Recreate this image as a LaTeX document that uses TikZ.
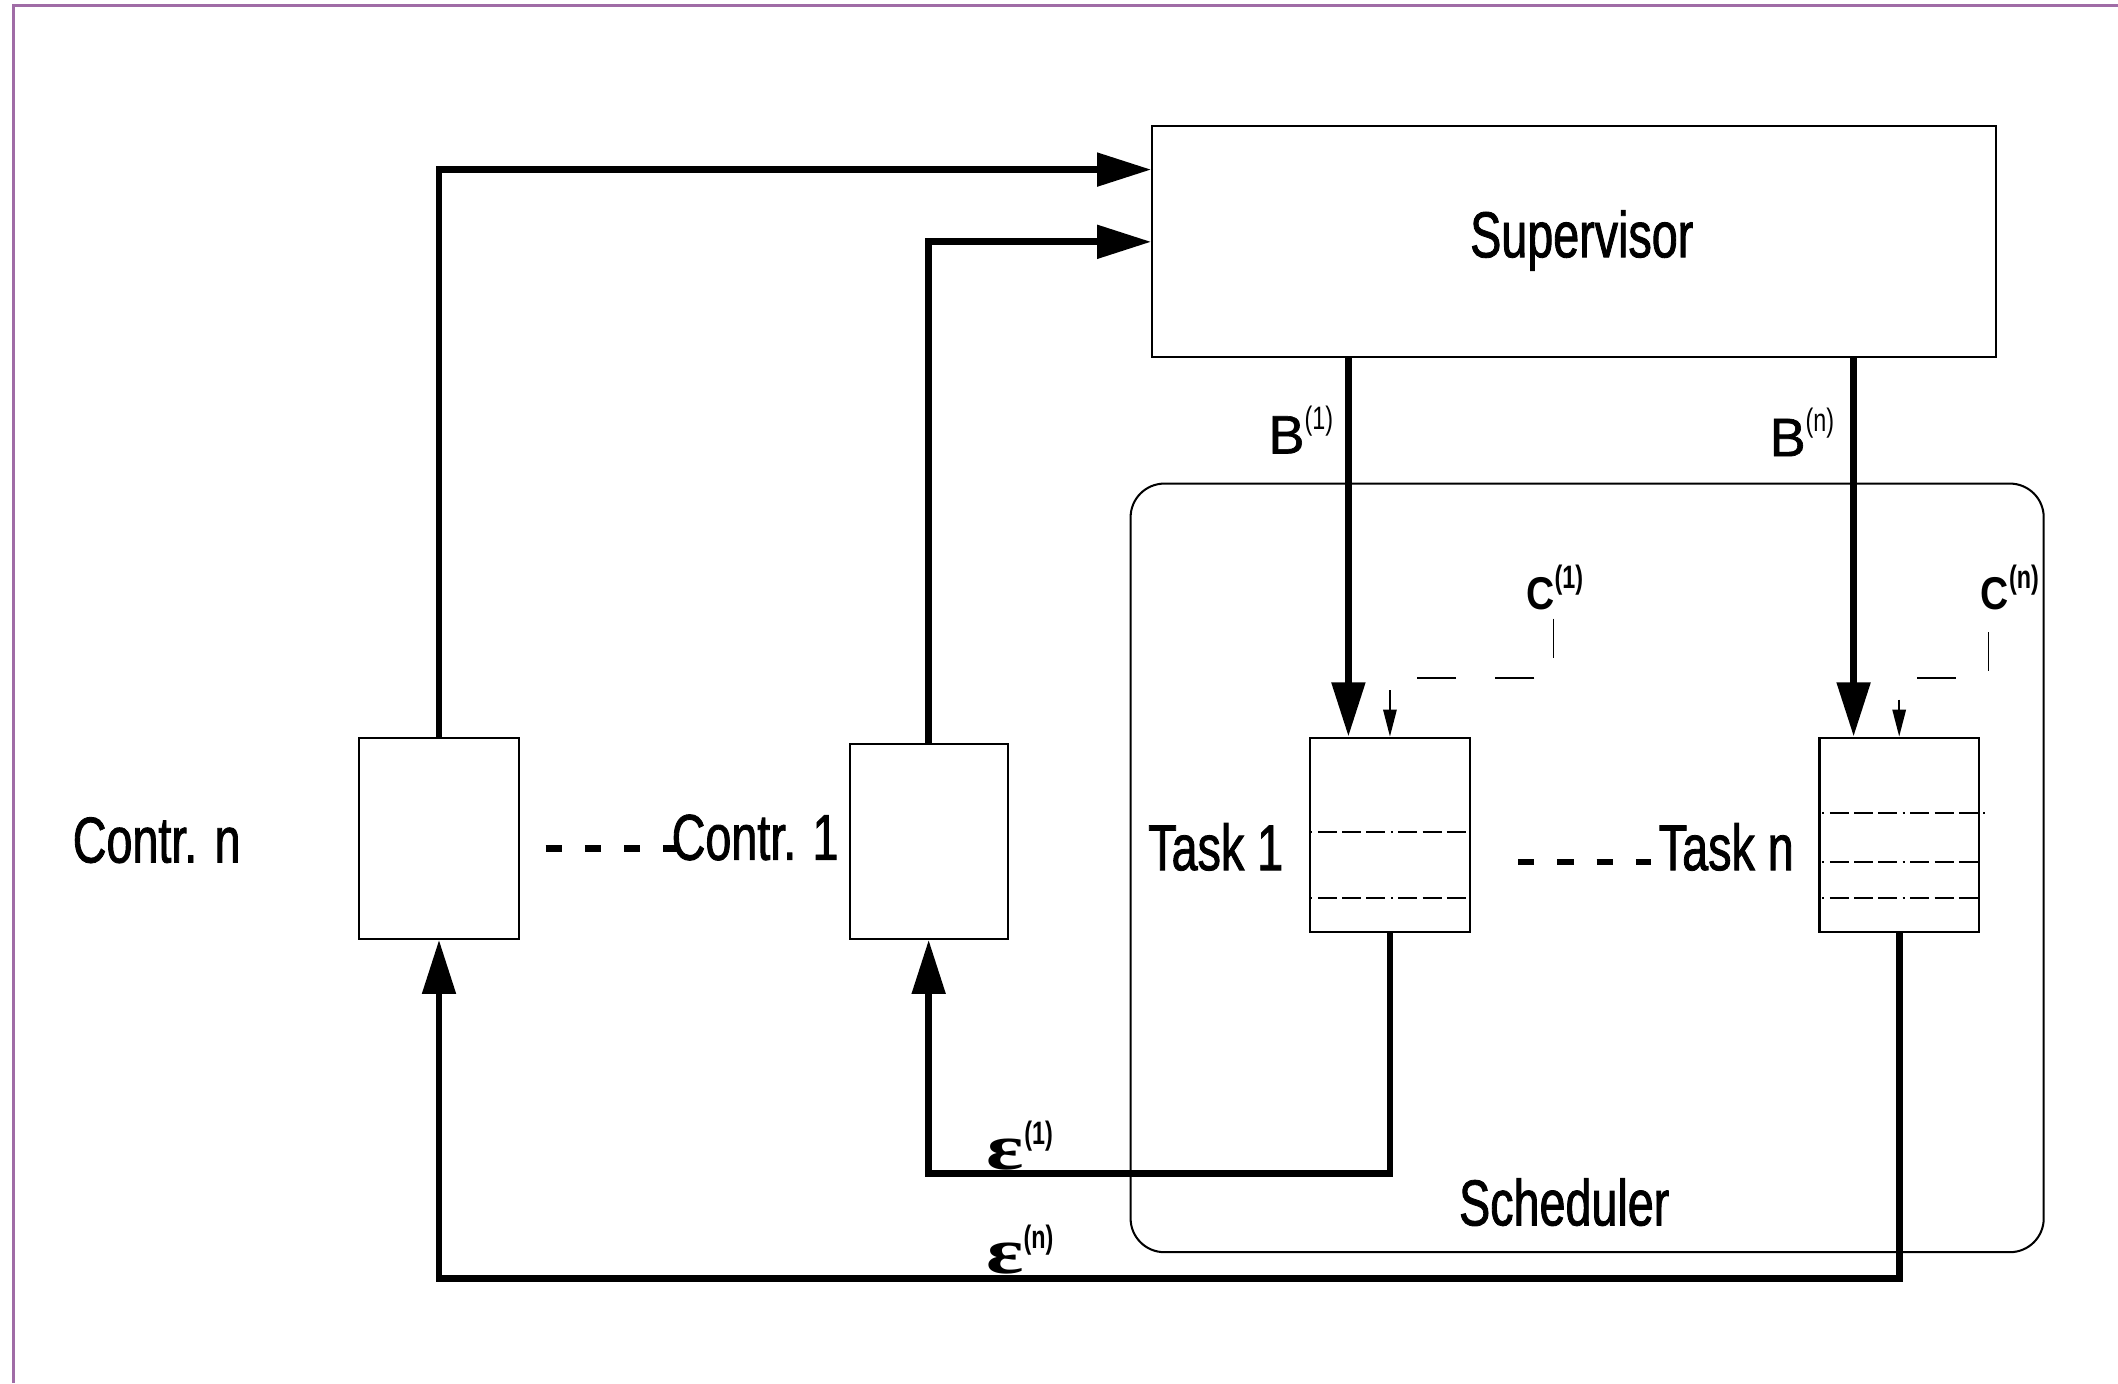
\documentclass[tikz,border=0pt]{standalone}
\usepackage{fontspec}
\usepackage{graphicx}
\setmainfont{Liberation Sans}
\newfontfamily\nar[FakeStretch=0.72,FakeBold=1.3]{Liberation Sans}
\newfontfamily\supf[FakeStretch=0.72]{Liberation Sans}
\newfontfamily\bfnt[FakeBold=1.2]{Liberation Sans}
\newfontfamily\cfont[FakeStretch=0.85]{Liberation Sans}
\newfontfamily\epsfont{Liberation Serif}
\usetikzlibrary{arrows.meta,calc}
\definecolor{framepurple}{RGB}{160,108,166}
\newcommand{\supx}[1]{\raisebox{0.85ex}{\supf\fontsize{12}{13}\selectfont(#1)}}
\tikzset{
  box/.style={draw,line width=0.75pt,rectangle,inner sep=0pt},
  lbl/.style={inner sep=0pt,font=\nar\fontsize{24}{26}\selectfont},
  blbl/.style={inner sep=0pt,font=\bfnt\fontsize{20}{22}\selectfont},
  clbl/.style={inner sep=0pt,font=\cfont\bfseries\fontsize{17}{19}\selectfont},
  elbl/.style={inner sep=0pt,font=\epsfont\bfseries\fontsize{24}{26}\selectfont},
  bigarrow/.style={line width=2.5pt,-{Triangle[length=20pt,width=12pt]}},
  cdash/.style={line width=0.6pt,dash pattern=on 14.5pt off 14.5pt,-{Triangle[length=10pt,width=5pt]}},
  ddot/.style={line width=0.6pt,dash pattern=on 0.8pt off 2pt on 7pt off 2pt on 7pt off 2pt on 7pt off 2pt},
  boldgap/.style={line width=2.4pt,dash pattern=on 6pt off 8.5pt}
}
\begin{document}
\begin{tikzpicture}[x=0.5pt,y=-0.5pt]
\useasboundingbox (0,0) rectangle (1568,1024);
% frame
\draw[framepurple,line width=1.1pt] (10,1024) -- (10,4) -- (1568,4);

% nodes
\node[box,minimum width=312.5pt,minimum height=85.5pt] (sup) at (1165.5,178.5) {};
\node[lbl] (suptxt) at (1171,178) {Supervisor};
\node[draw,line width=0.75pt,rounded corners=12.5pt,minimum width=338pt,minimum height=284.5pt,inner sep=0pt] (sched) at (1175,642.5) {};
\node[lbl] (schedtxt) at (1158,890) {Scheduler};

\node[box,minimum width=59pt,minimum height=74.5pt] (cn) at (325,620.5) {};
\node[box,minimum width=58.5pt,minimum height=72pt] (c1) at (687.5,623) {};
\node[box,minimum width=59pt,minimum height=72pt] (t1) at (1029,618) {};
\node[box,minimum width=59pt,minimum height=72pt] (tn) at (1406,618) {};

\node[lbl] (cntxt) at (116,622) {Contr. n};
\node[lbl] (c1txt) at (559,620) {Contr.\hspace{0.25em}1};
\node[lbl] (t1txt) at (900,627) {Task 1};
\node[lbl] (tntxt) at (1278,627) {Task n};

% dashes between
\draw[boldgap] (404,628) -- (502,628);
\draw[boldgap] (1124,638) -- (1222,638);

% dash-dot lines in task boxes
\draw[ddot] (970,616) -- (1088,616);
\draw[ddot] (970,665) -- (1088,665);
\draw[ddot] (1349,602) -- (1470,602);
\draw[ddot] (1349,638) -- (1465,638);
\draw[ddot] (1349,665) -- (1465,665);

% controller to supervisor
\draw[bigarrow] (cn.north) |- ($(sup.north west)!0.193!(sup.south west)$);
\draw[bigarrow] (c1.north) |- ($(sup.north west)!0.503!(sup.south west)$);

% B arrows
\coordinate (b1) at ($(t1.north west)+(29,0)$);
\coordinate (bn) at ($(tn.north west)+(26,0)$);
\draw[bigarrow] (sup.south -| b1) -- (b1);
\draw[bigarrow] (sup.south -| bn) -- (bn);
\node[blbl] (b1lab) at (963,318) {B\supx{1}};
\node[blbl] (bnlab) at (1334,320) {B\supx{n}};

% C dashed
\node[clbl] (c1lab) at (1151,435) {C\supx{1}};
\node[clbl] (cnlab) at (1488,435) {C\supx{n}};
\coordinate (c1s) at (1150,458);
\coordinate (cns) at (1472,468);
\draw[cdash] (c1s) -- ++(0,44) -| (t1.north);
\draw[cdash] (cns) -- ++(0,34) -| (tn.north);

% epsilon feedback
\draw[bigarrow] (t1.south) -- ++(0,178) -| (c1.south);
\draw[bigarrow] (tn.south) -- ++(0,256) -| (cn.south);
\node[elbl] (e1lab) at (755,848) {\scalebox{1.35}[1]{ε}\supx{1}};
\node[elbl] (enlab) at (755,925) {\scalebox{1.35}[1]{ε}\supx{n}};
\end{tikzpicture}
\end{document}
